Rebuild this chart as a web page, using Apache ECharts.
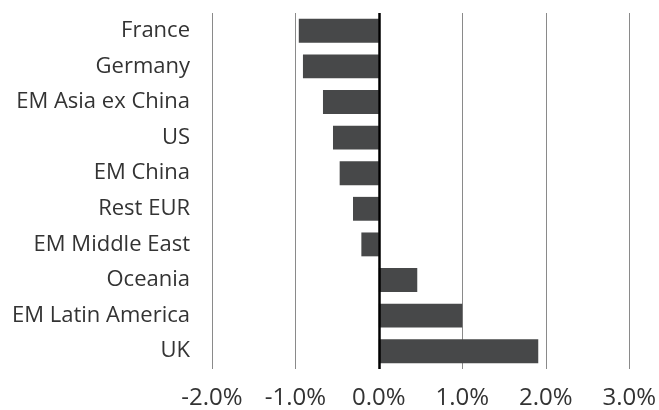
<!DOCTYPE html>
<html>
<head>
<meta charset="utf-8">
<script src="https://cdn.jsdelivr.net/npm/echarts@6/dist/echarts.min.js"></script>
<style>
  html, body { margin: 0; padding: 0; background: #fff; }
  #chart { width: 659px; height: 410px; }
</style>
</head>
<body>
<div id="chart"></div>
<script>
  // top to bottom as in the picture
  const regions = ['France', 'Germany', 'EM Asia ex China', 'US', 'EM China', 'Rest EUR', 'EM Middle East', 'Oceania', 'EM Latin America', 'UK']
  const values = [-0.96, -0.91, -0.67, -0.55, -0.47, -0.31, -0.21, 0.46, 1.0, 1.91]
  const xTicks = [-2, -1, 0, 1, 2, 3]

  const myChart = echarts.init(document.getElementById('chart'))
  myChart.setOption({
    animation: false,
    grid: {
      left: 212,
      right: 29,
      top: 13,
      bottom: 37
    },
    xAxis: {
      type: 'value',
      min: xTicks[0],
      max: xTicks[xTicks.length - 1],
      interval: 1,
      axisLine: { show: false },
      axisTick: { show: false },
      splitLine: {
        show: true,
        lineStyle: { color: '#8a8a8a', width: 1 }
      },
      axisLabel: {
        color: '#333',
        fontFamily: 'Open Sans',
        fontSize: 24,
        margin: 17,
        formatter: v => v.toFixed(1) + '%'
      }
    },
    yAxis: {
      type: 'category',
      inverse: true,
      data: regions,
      axisLine: { show: false },
      axisTick: { show: false },
      axisLabel: {
        color: '#333',
        fontFamily: 'Open Sans',
        fontSize: 22,
        margin: 22
      }
    },
    series: [{
      type: 'bar',
      data: values,
      barCategoryGap: '33%',
      itemStyle: { color: '#474849' },
      markLine: {
        silent: true,
        symbol: 'none',
        label: { show: false },
        lineStyle: { color: '#000', width: 2.5, type: 'solid' },
        data: [{ xAxis: 0 }]
      }
    }]
  })
</script>
</body>
</html>
